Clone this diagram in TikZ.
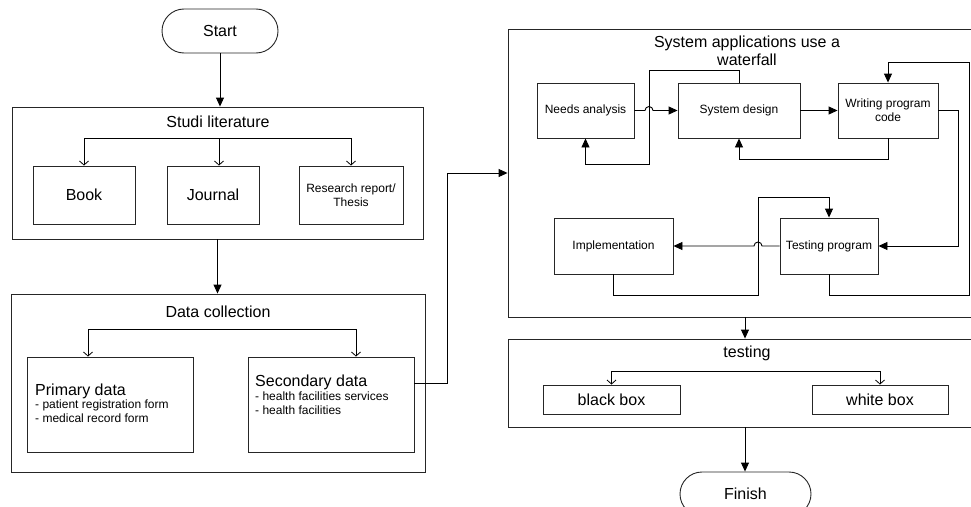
\documentclass[tikz,border=0pt]{standalone}
\usepackage{fontspec}
\setmainfont{Liberation Sans}
\usetikzlibrary{arrows.meta}
\begin{document}
\begin{tikzpicture}[x=1pt,y=-1pt,
  box/.style={draw=black!85, line width=0.9pt, inner sep=1pt, align=center},
  big/.style={font=\fontsize{16}{18}\selectfont},
  small/.style={font=\fontsize{12}{14}\selectfont},
  txt/.style={inner sep=0pt},
  term/.style={draw=black!85, line width=0.9pt, rounded corners=22pt, minimum width=#1, minimum height=44pt, font=\fontsize{16}{18}\selectfont},
  arr/.style={line width=0.9pt, -{Triangle[length=9pt,width=8pt]}},
  oarr/.style={line width=0.8pt, -{Straight Barb[length=4pt,width=9pt]}},
  ln/.style={line width=0.9pt}]
\useasboundingbox (0,0) rectangle (971,506);
\clip (0,0) rectangle (971,506);
\fill[white] (0,0) rectangle (971,506);

% ---------- left column ----------
\node[term=116pt] (start) at (220,31) {Start};

\node[box, minimum width=411pt, minimum height=132pt] (studi) at (217.5,173) {};
\node[txt, big] (studititle) at (218,122) {Studi literature};
\node[box, big, minimum width=102pt, minimum height=58pt] (book) at (84,195) {Book};
\node[box, big, minimum width=92pt, minimum height=58pt] (journal) at (213,195) {Journal};
\node[box, small, minimum width=104pt, minimum height=58pt] (research) at (351,195) {Research report/\\Thesis};
\coordinate (sb) at (219,138);
\draw[ln] (book.north |- sb) -- (research.north |- sb);
\draw[oarr] (sb) -- (sb |- journal.north);
\draw[oarr] (sb) -| (book.north);
\draw[oarr] (sb) -| (research.north);

\node[box, minimum width=414pt, minimum height=178pt] (data) at (218,383) {};
\node[txt, big] (datatitle) at (218,312) {Data collection};
\node[box, minimum width=166pt, minimum height=95pt] (primary) at (110,404.5) {};
\node[box, minimum width=166pt, minimum height=95pt] (secondary) at (331,404.5) {};
\coordinate (db) at (218,329);
\coordinate (dl) at (88,329);
\coordinate (dr) at (356,329);
\draw[ln] (dl) -- (dr);
\draw[oarr] (dl) -- (dl |- primary.north);
\draw[oarr] (dr) -- (dr |- secondary.north);

\node[txt, big, anchor=base west] (pdt) at (35,395) {Primary data};
\node[txt, small, anchor=base west] (pd1) at (35,408.5) {- patient registration form};
\node[txt, small, anchor=base west] (pd2) at (35,422.5) {- medical record form};
\node[txt, big, anchor=base west] (sdt) at (255,386) {Secondary data};
\node[txt, small, anchor=base west] (sd1) at (255,400) {- health facilities services};
\node[txt, small, anchor=base west] (sd2) at (255,414) {- health facilities};

\draw[arr] (start.south) -- (start.south |- studi.north);
\draw[arr] (studi.south) -- (studi.south |- data.north);

% ---------- waterfall ----------
\node[box, minimum width=467pt, minimum height=288pt] (waterfall) at (741.5,173) {};
\node[txt, big, align=center] (wtitle) at (747,51) {System applications use a\\waterfall};
\draw[arr] ([yshift=21.5pt]secondary.east) -- ++(33,0) |- (waterfall.west);

\node[box, small, minimum width=97pt, minimum height=55pt] (needs) at (585.5,110.5) {Needs analysis};
\node[box, small, minimum width=122pt, minimum height=55pt] (design) at (739,110.5) {System design};
\node[box, small, minimum width=100pt, minimum height=55pt] (writing) at (888,110.5) {Writing program\\code};
\node[box, small, minimum width=119pt, minimum height=56pt] (impl) at (613.5,246) {Implementation};
\node[box, small, minimum width=98pt, minimum height=56pt] (testing) at (829,246) {Testing program};

\coordinate (f1) at (649,70);
\coordinate (f2) at (649,164);
\coordinate (hx) at (649,110.5);
\coordinate (f3) at (888,159);
\draw[arr] (needs.east) -- ([xshift=-4pt]hx) arc[start angle=180, end angle=360, radius=4] -- (design.west);
\draw[arr] (design.north) |- (f1) -- (f2) -| (needs.south);
\draw[arr] (design.east) -- (writing.west);
\draw[arr] (writing.south) -- (f3) -| (design.south);
\draw[arr] (writing.east) -- ++(20,0) |- (testing.east);

\coordinate (g1) at (758,295);
\coordinate (g2) at (758,197);
\coordinate (h2) at (758,246);
\coordinate (g3) at (969,295);
\coordinate (g4) at (969,62);
\draw[arr] (testing.west) -- ([xshift=4pt]h2) arc[start angle=0, end angle=-180, radius=4] -- (impl.east);
\draw[arr] (impl.south) |- (g1) -- (g2) -| (testing.north);
\draw[arr] (testing.south) |- (g3) -- (g4) -| (writing.north);

% ---------- testing ----------
\node[box, minimum width=467pt, minimum height=88pt] (testbox) at (741.5,383) {};
\node[txt, big] (ttitle) at (747,353) {testing};
\node[box, big, minimum width=137pt, minimum height=29pt] (blackbox) at (611.5,399.5) {black box};
\node[box, big, minimum width=136pt, minimum height=29pt] (whitebox) at (880,399.5) {white box};
\coordinate (tb) at (745,371);
\draw[oarr] (tb) -| (blackbox.north);
\draw[oarr] (tb) -| (whitebox.north);
\draw[arr] ([xshift=3.5pt]waterfall.south) -- ([xshift=3.5pt]testbox.north);

\node[term=131pt] (finish) at (745.5,494) {Finish};
\draw[arr] ([xshift=3.5pt]testbox.south) -- ([xshift=3.5pt]testbox.south |- finish.north);
\end{tikzpicture}
\end{document}
